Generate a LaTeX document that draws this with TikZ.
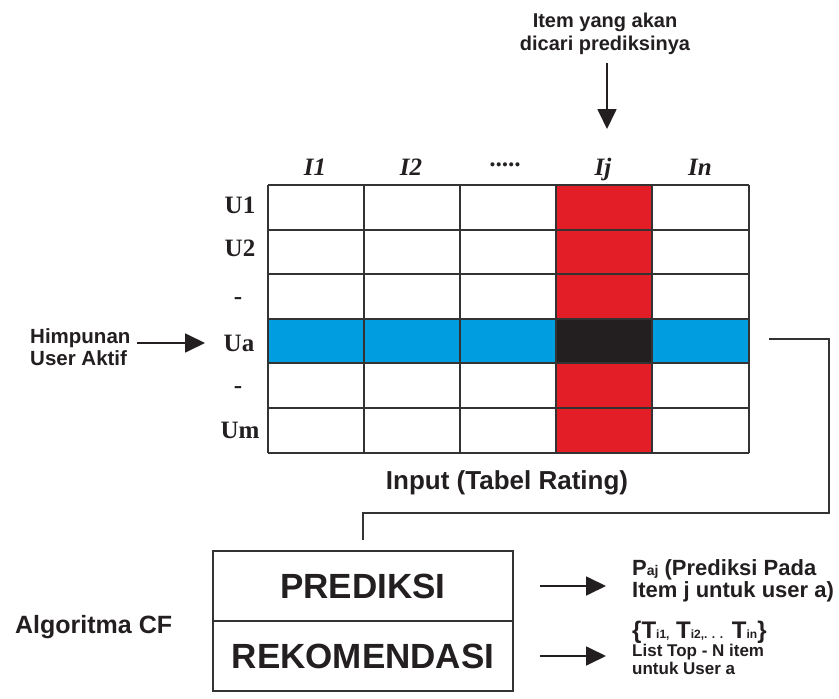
\documentclass[tikz,border=0pt]{standalone}
\usepackage{fontspec}
\setmainfont{Liberation Sans}
\newfontfamily\serifbf{Liberation Serif}
\usetikzlibrary{arrows.meta}
\definecolor{cred}{HTML}{E31E26}
\definecolor{cblue}{HTML}{009DE0}
\definecolor{cblk}{HTML}{231F20}
\definecolor{cline}{HTML}{333333}
\newcommand\sbx[1]{{\fontsize{12}{12}\selectfont #1}}
\begin{document}
\begin{tikzpicture}[x=1pt,y=-1pt,
  gridline/.style={draw=cline, line width=1.8pt},
  conn/.style={draw=cline, line width=1.8pt},
  arr/.style={draw=cblk, line width=1.8pt, -{Triangle[length=20pt,width=19pt]}},
  lab/.style={font=\fontsize{20.5}{22}\selectfont\bfseries, text=cblk, align=left, inner sep=0pt},
  hdr/.style={font=\serifbf\fontsize{25}{25}\selectfont\bfseries\itshape, text=cblk, inner sep=0pt, anchor=base},
  rowlab/.style={font=\serifbf\fontsize{25}{25}\selectfont\bfseries, text=cblk, inner sep=0pt, anchor=base},
  boxnode/.style={draw=cline, line width=1.8pt, minimum width=300pt, minimum height=70pt, inner sep=0pt, font=\fontsize{35}{35}\selectfont\bfseries, text=cblk},
  note/.style={font=\fontsize{22}{22}\selectfont\bfseries, text=cblk, inner sep=0pt, anchor=base west}
]
\useasboundingbox (0,0) rectangle (839,699);
\fill[white] (0,0) rectangle (839,699);

% coloured cells
\fill[cred] (556,185) rectangle (652,453);
\fill[cblue] (268,319) rectangle (749,363);
\fill[cblk] (556,319) rectangle (652,363);

% grid
\foreach \x in {268,364,460,556,652,749} \draw[gridline] (\x,185) -- (\x,453);
\foreach \y in {185,230,274,319,363,408,453} \draw[gridline] (268,\y) -- (749,\y);

% column headers
\node[hdr] (hI1) at (315,175) {I1};
\node[hdr] (hI2) at (411,175) {I2};
\node[hdr] (hdots) at (506,166) {.....};
\node[hdr] (hIj) at (603,175) {Ij};
\node[hdr] (hIn) at (700,175) {In};

% row labels
\node[rowlab] (rU1) at (240,213) {U1};
\node[rowlab] (rU2) at (240,256) {U2};
\node[rowlab] (rd1) at (238,304) {-};
\node[rowlab] (rUa) at (239,351) {Ua};
\node[rowlab] (rd2) at (238,393) {-};
\node[rowlab] (rUm) at (240,438) {Um};

% caption
\node[font=\fontsize{26}{26}\selectfont\bfseries, text=cblk, inner sep=0pt, anchor=base] (input) at (507,489) {Input (Tabel Rating)};

% top label and arrow
\node[font=\fontsize{20}{23}\selectfont\bfseries, text=cblk, inner sep=0pt, anchor=base, align=center] (toptxt) at (605,50) {Item yang akan\\dicari prediksinya};
\coordinate (topA) at (607,63);
\coordinate (topB) at (607,129);
\draw[arr] (topA) -- (topB);

% left label and arrow
\node[lab, anchor=base west] (himp) at (30,365) {Himpunan\\User Aktif};
\coordinate (himA) at (137,343);
\coordinate (himB) at (205,343);
\draw[arr] (himA) -- (himB);

% boxes
\node[boxnode] (pred) at (363,586) {PREDIKSI};
\node[boxnode] (rek) at (363,656) {REKOMENDASI};

% connector from active user row to prediction
\coordinate (cA) at (769,339);
\coordinate (cB) at (829,339);
\coordinate (cC) at (829,513);
\coordinate (cD) at (363,513);
\coordinate (cE) at (363,540);
\draw[conn] (cA) -- (cB) -- (cC) -- (cD) -- (cE);

% left caption
\node[font=\fontsize{25}{25}\selectfont\bfseries, text=cblk, inner sep=0pt, anchor=base west] (algo) at (15,633) {Algoritma CF};

% right arrows
\coordinate (pA) at (540,586);
\coordinate (pB) at (606,586);
\draw[arr] (pA) -- (pB);
\coordinate (rA) at (540,656);
\coordinate (rB) at (606,656);
\draw[arr] (rA) -- (rB);

% right texts
\node[note] (paj1) at (632,575) {P{\fontsize{14}{14}\selectfont aj} (Prediksi Pada};
\node[note] (paj2) at (632,597) {Item j untuk user a)};
\node[note, font=\fontsize{24}{24}\selectfont\bfseries] (tl) at (632,638) {\{T\sbx{i1,} T\sbx{i2,. . .} T\sbx{in}\}};
\node[note, font=\fontsize{17}{17}\selectfont\bfseries] (tl2) at (632,656) {List Top - N item};
\node[note, font=\fontsize{17}{17}\selectfont\bfseries] (tl3) at (632,674) {untuk User a};
\end{tikzpicture}
\end{document}
